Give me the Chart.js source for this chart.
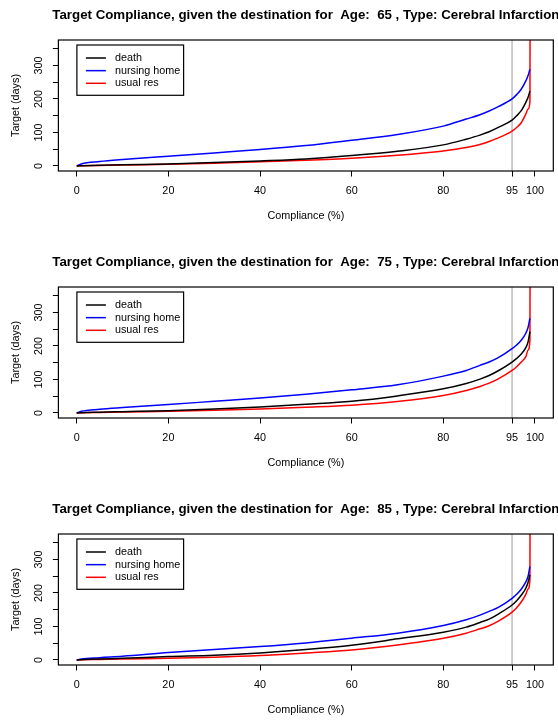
<!DOCTYPE html>
<html>
<head>
<meta charset="utf-8">
<script src="https://cdn.jsdelivr.net/npm/chart.js@4.4.1/dist/chart.umd.min.js"></script>
<style>
  html, body { margin: 0; padding: 0; background: #fff; }
  #pagina { width: 558px; height: 720px; overflow: hidden; }
  .painel { width: 612px; height: 247px; }
  canvas { display: block; }
</style>
</head>
<body>
<div id="pagina">
  <div class="painel"><canvas id="grafico65" width="612" height="247"></canvas></div>
  <div class="painel"><canvas id="grafico75" width="612" height="247"></canvas></div>
  <div class="painel"><canvas id="grafico85" width="612" height="247"></canvas></div>
</div>
<script>
// ==========================================
// DADOS
// ==========================================
const compliance = [0, 1, 5, 10, 20, 30, 40, 50, 60, 70, 80, 85, 88, 90, 92, 95, 96, 97, 98, 98.5, 98.9, 99];

// Age 65
const death65   = [0, 1, 2, 3.5, 6, 10, 15, 21, 31, 44, 63, 80, 92, 102, 115, 137, 150, 165, 190, 205, 224, null];
const nursing65 = [0, 6, 13, 19, 29, 39, 49, 61, 77, 94, 119, 140, 153, 164, 177, 200, 213, 229, 254, 270, 289, null];
const usual65   = [0, 0.5, 1.5, 3, 5, 8, 12.5, 17, 23, 32, 45, 55, 64, 73, 84, 104, 115, 129, 155, 170, 192, 1000];

// Age 75
const death75   = [0, 1, 2.5, 4, 7, 12, 18, 26, 35, 51, 72, 88, 101, 112, 126, 152, 163, 176, 195, 212, 243, null];
const nursing75 = [0, 5, 11, 16, 25, 35, 45, 56, 69, 84, 110, 127, 142, 152, 165, 192, 203, 217, 238, 256, 283, null];
const usual75   = [0, 0.5, 1.5, 3, 5, 8, 12, 17, 23, 34, 52, 67, 79, 89, 102, 127, 138, 152, 168, 188, 219, 1000];

// Age 85
const death85   = [0, 1, 3, 5, 10, 14, 21, 31, 44, 63, 83, 98, 112, 122, 137, 164, 177, 193, 214, 232, 254, null];
const nursing85 = [0, 3, 7, 11, 22, 31, 40, 51, 65, 80, 103, 120, 134, 145, 157, 184, 196, 211, 233, 250, 279, null];
const usual85   = [0, 0.5, 1.5, 3, 5, 8, 13, 21, 30, 45, 65, 80, 93, 102, 116, 143, 156, 173, 196, 212, 240, 1000];

const ages = [65, 75, 85];
const seriesNames = ['death', 'nursing home', 'usual res'];
const seriesColors = ['#000000', '#0000ff', '#ff0000'];

const xTicks = [0, 20, 40, 60, 80, 95, 100];
const yTicks = [0, 50, 100, 150, 200, 250, 300, 350];
const yTickLabels = [0, 100, 200, 300];
const refLine = 95;

const serieDados = {
    65: [death65, nursing65, usual65],
    75: [death75, nursing75, usual75],
    85: [death85, nursing85, usual85]
};

const FONTE = '"Liberation Sans", Arial, Helvetica, sans-serif';
Chart.defaults.font.family = FONTE;
Chart.defaults.color = '#000';

// ==========================================
// PLUGINS: título, caixa em volta e legenda no canto
// ==========================================
// título centrado sobre a área do gráfico, sem ser espremido (o original sai da imagem)
const tituloPlugin = {
    id: 'tituloR',
    afterDraw(chart, args, opts) {
        const { ctx, chartArea: a } = chart;
        ctx.save();
        ctx.font = 'bold 13.3px ' + FONTE;
        ctx.fillStyle = '#000';
        ctx.textAlign = 'center';
        ctx.textBaseline = 'middle';
        ctx.fillText(opts.text, (a.left + a.right) / 2, 15.3);
        ctx.restore();
    }
};

const caixaPlugin = {
    id: 'caixa',
    afterDatasetsDraw(chart) {
        const { ctx, chartArea: a } = chart;
        ctx.save();
        ctx.strokeStyle = '#000';
        ctx.lineWidth = 1.2;
        ctx.strokeRect(a.left, a.top, a.right - a.left, a.bottom - a.top);
        ctx.restore();
    }
};

const legendaPlugin = {
    id: 'legendaR',
    afterDraw(chart) {
        const { ctx, chartArea: a } = chart;
        const bx = a.left + 18.5, by = a.top + 5;
        ctx.save();
        ctx.fillStyle = '#fff';
        ctx.fillRect(bx, by, 106.7, 50.3);
        ctx.strokeStyle = '#000';
        ctx.lineWidth = 1.2;
        ctx.strokeRect(bx, by, 106.7, 50.3);
        ctx.font = '10.8px ' + FONTE;
        ctx.textBaseline = 'middle';
        ctx.textAlign = 'left';
        chart.data.datasets.filter(d => seriesNames.includes(d.label)).forEach((d, i) => {
            const y = by + 13 + i * 12.65;
            ctx.strokeStyle = d.borderColor;
            ctx.lineWidth = 1.5;
            ctx.beginPath();
            ctx.moveTo(bx + 9, y);
            ctx.lineTo(bx + 29, y);
            ctx.stroke();
            ctx.fillStyle = '#000';
            ctx.fillText(d.label, bx + 38, y);
        });
        ctx.restore();
    }
};

// ==========================================
// DESENHAR OS TRÊS GRÁFICOS
// ==========================================
function desenharGrafico(age) {
    const ctx = document.getElementById('grafico' + age).getContext('2d');

    const datasets = serieDados[age].map((valores, i) => ({
        label: seriesNames[i],
        data: compliance.map((c, k) => ({ x: c, y: valores[k] })),
        borderColor: seriesColors[i],
        borderWidth: 1.5,
        pointRadius: 0,
        cubicInterpolationMode: 'monotone',
        fill: false
    }));

    // linha vertical cinza em 95%
    datasets.push({
        label: 'ref',
        data: [{ x: refLine, y: -15 }, { x: refLine, y: 376 }],
        borderColor: '#bebebe',
        borderWidth: 1.5,
        pointRadius: 0
    });

    new Chart(ctx, {
        type: 'line',
        data: { datasets },
        options: {
            responsive: false,
            animation: false,
            layout: { padding: { left: 0, right: 58.7, top: 40, bottom: 0 } },
            plugins: {
                legend: { display: false },
                tooltip: { enabled: false },
                title: { display: false },
                tituloR: {
                    text: 'Target Compliance, given the destination for  Age:  ' + age + ' , Type: Cerebral Infarction'
                }
            },
            scales: {
                x: {
                    type: 'linear',
                    min: -4, max: 104,
                    afterBuildTicks: s => { s.ticks = xTicks.map(v => ({ value: v })); },
                    afterFit: s => { s.height = 76; },
                    ticks: { font: { size: 10.8 }, color: '#000', padding: 8, maxRotation: 0, autoSkip: false,
                             callback: v => String(v) },
                    grid: { drawOnChartArea: false, drawTicks: true, tickLength: 5.5, tickColor: '#000', tickWidth: 1 },
                    border: { display: false },
                    title: { display: true, text: 'Compliance (%)', font: { size: 10.8 }, color: '#000',
                             padding: { top: 0, bottom: 24.5 } }
                },
                y: {
                    type: 'linear',
                    min: -15, max: 376,
                    afterBuildTicks: s => { s.ticks = yTicks.map(v => ({ value: v })); },
                    afterFit: s => { s.width = 58.4; },
                    ticks: { font: { size: 10.8 }, color: '#000', padding: 4.4, minRotation: 90, maxRotation: 90,
                             crossAlign: 'center', autoSkip: false,
                             callback: v => yTickLabels.includes(v) ? String(v) : '' },
                    grid: { drawOnChartArea: false, drawTicks: true, tickLength: 5.5, tickColor: '#000', tickWidth: 1 },
                    border: { display: false },
                    title: { display: true, text: 'Target (days)', font: { size: 10.8 }, color: '#000',
                             padding: { top: 9.5, bottom: 0 } }
                }
            }
        },
        plugins: [tituloPlugin, caixaPlugin, legendaPlugin]
    });
}

ages.forEach(desenharGrafico);
</script>
</body>
</html>
